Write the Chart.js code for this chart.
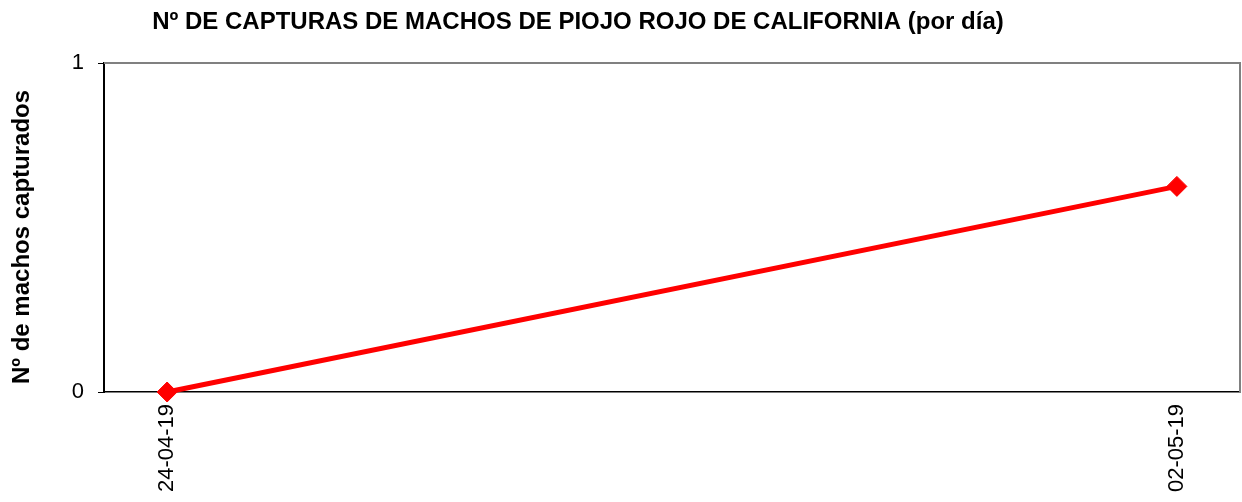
<!DOCTYPE html>
<html lang="es">
<head>
<meta charset="UTF-8">
<title>Capturas piojo rojo</title>
<script src="https://cdn.jsdelivr.net/npm/chart.js"></script>
<style>
  body { margin: 0; background: #fff; }
  #wrap { width: 1242px; height: 502px; position: relative; }
</style>
</head>
<body>
<div id="wrap"><canvas id="chart"></canvas></div>
<script>
// chart values
const chartTitle = 'Nº DE CAPTURAS DE MACHOS DE PIOJO ROJO DE CALIFORNIA (por día)';
const yTitle = 'Nº de machos capturados';
const dates = ['24-04-19', '02-05-19'];
const captures = [0, 0.625];
const yTicks = [0, 1];

// days since the first sample, so the x axis keeps a date spacing
function toDay(s) {
  const [d, m, y] = s.split('-').map(Number);
  return Date.UTC(2000 + y, m - 1, d) / 86400000;
}
const day0 = toDay(dates[0]);
const dayIdx = dates.map(d => toDay(d) - day0);
const points = dayIdx.map((x, i) => ({ x: x, y: captures[i] }));

const FONT = '"Liberation Sans", Arial, sans-serif';

const extras = {
  id: 'extras',
  beforeDatasetsDraw(chart) {
    const { ctx, chartArea: a } = chart;
    ctx.save();
    ctx.strokeStyle = '#808080';
    ctx.lineWidth = 2;
    ctx.beginPath();
    ctx.moveTo(a.left, a.top);
    ctx.lineTo(a.right, a.top);
    ctx.lineTo(a.right, a.bottom);
    ctx.stroke();
    ctx.restore();
  },
  afterDraw(chart) {
    const ctx = chart.ctx;
    ctx.save();
    ctx.fillStyle = '#000';
    ctx.font = 'bold 24px ' + FONT;
    ctx.textAlign = 'center';
    ctx.textBaseline = 'middle';
    ctx.fillText(chartTitle, 578, 22);
    ctx.translate(22, 237);
    ctx.rotate(-Math.PI / 2);
    ctx.fillText(yTitle, 0, 0);
    ctx.restore();
  }
};

new Chart(document.getElementById('chart'), {
  type: 'line',
  data: {
    datasets: [{
      data: points,
      borderColor: '#ff0000',
      backgroundColor: '#ff0000',
      borderWidth: 5,
      pointStyle: 'rectRot',
      pointRadius: 10,
      pointBorderWidth: 1,
      pointBorderColor: '#ff0000',
      clip: false,
      tension: 0
    }]
  },
  options: {
    responsive: true,
    maintainAspectRatio: false,
    animation: false,
    layout: { autoPadding: false, padding: { top: 63, right: 2, left: 0, bottom: 0 } },
    plugins: {
      legend: { display: false },
      tooltip: { enabled: false },
      title: { display: false }
    },
    scales: {
      x: {
        type: 'linear',
        min: Math.min(...dayIdx) - 0.5,
        max: Math.max(...dayIdx) + 0.5,
        afterBuildTicks: s => { s.ticks = dayIdx.map(v => ({ value: v })); },
        afterFit: s => { s.height = 110; s.paddingLeft = 0; s.paddingRight = 0; },
        grid: { display: false, drawTicks: false },
        border: { display: true, color: '#000', width: 1.5 },
        ticks: {
          minRotation: 90,
          maxRotation: 90,
          padding: 12,
          color: '#000',
          font: { family: FONT, size: 22 },
          callback: v => dates[dayIdx.indexOf(v)] || ''
        }
      },
      y: {
        min: yTicks[0],
        max: yTicks[yTicks.length - 1],
        afterBuildTicks: s => { s.ticks = yTicks.map(v => ({ value: v })); },
        afterFit: s => { s.width = 104; s.paddingTop = 0; s.paddingBottom = 0; },
        grid: { drawOnChartArea: false, tickLength: 6, color: '#000', tickWidth: 1 },
        border: { display: true, color: '#000', width: 2 },
        ticks: {
          padding: 14,
          color: '#000',
          font: { family: FONT, size: 22 }
        }
      }
    }
  },
  plugins: [extras]
});
</script>
</body>
</html>
